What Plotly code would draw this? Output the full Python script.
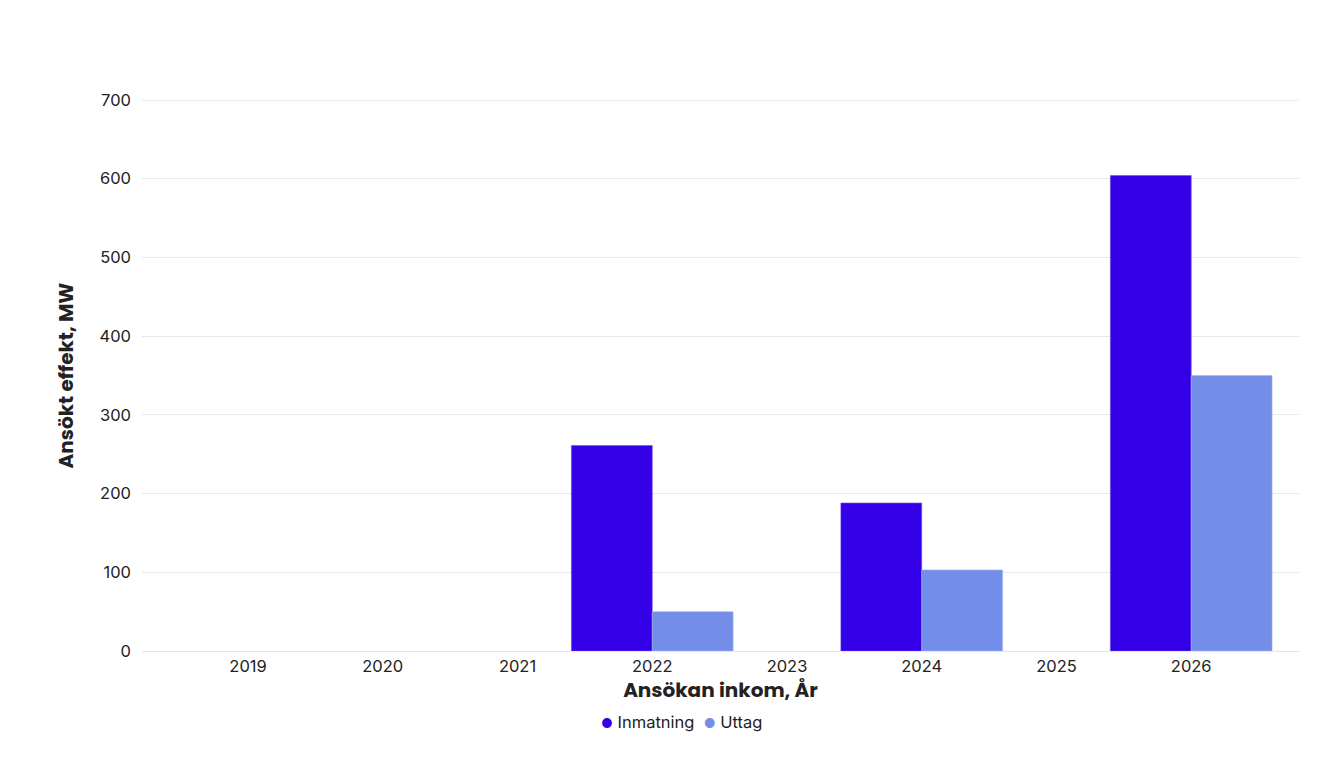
import plotly.graph_objects as go

years = ["2019", "2020", "2021", "2022", "2023", "2024", "2025", "2026"]
inmatning = [None, None, None, 261, None, 188, None, 604]
uttag = [None, None, None, 50, None, 103, None, 350]

c_inm = "#3300e8"
c_utt = "#738de9"

fig = go.Figure()
fig.add_trace(go.Bar(
    x=years, y=inmatning, name="Inmatning",
    marker=dict(color=c_inm, line=dict(color="#6a4cf0", width=0.6)),
    width=0.6, offset=-0.6,
))
fig.add_trace(go.Bar(
    x=years, y=uttag, name="Uttag",
    marker=dict(color=c_utt, line=dict(color="#a6b7f2", width=0.6)),
    width=0.6, offset=0,
))

# compact legend with round markers, drawn as text
legend_text = (
    f"<span style='color:{c_inm};font-size:13px'>●</span> Inmatning  "
    f"<span style='color:{c_utt};font-size:13px'>●</span> Uttag"
)

fig.update_layout(
    width=1328, height=768,
    barmode="overlay",
    paper_bgcolor="white", plot_bgcolor="white",
    margin=dict(l=134, r=37, t=92, b=125),
    font=dict(family="Inter, sans-serif", size=16, color="#222222"),
    showlegend=False,
    annotations=[dict(
        text=legend_text, xref="paper", yref="paper",
        x=0.4667, y=-0.129, xanchor="center", yanchor="middle",
        showarrow=False, font=dict(size=16.5, color="#222222"),
    )],
    shapes=[dict(
        type="line", xref="paper", yref="y", x0=0, x1=1, y0=699.6, y1=699.6,
        line=dict(color="#e6e6e6", width=1), layer="below",
    )],
    xaxis=dict(
        type="category", range=[-0.787, 7.80],
        title=dict(text="Ansökan inkom, År", standoff=8,
                   font=dict(family="Poppins, Inter, sans-serif", size=20, color="#222222", weight="bold")),
        showgrid=False, ticks="", tickfont=dict(size=16.5, color="#222222"),
        showline=True, linecolor="#e6e6e6", linewidth=1,
    ),
    yaxis=dict(
        range=[0, 700], tickvals=[0, 100, 200, 300, 400, 500, 600, 700],
        title=dict(text="Ansökt effekt, MW", standoff=20,
                   font=dict(family="Poppins, Inter, sans-serif", size=20, color="#222222", weight="bold")),
        showgrid=True, gridcolor="#e8e8e8", gridwidth=1,
        zeroline=True, zerolinecolor="#e6e6e6", zerolinewidth=1,
        ticks="", tickfont=dict(size=16.5, color="#222222"), ticklabelstandoff=10,
    ),
)

fig.write_html("out.html")
